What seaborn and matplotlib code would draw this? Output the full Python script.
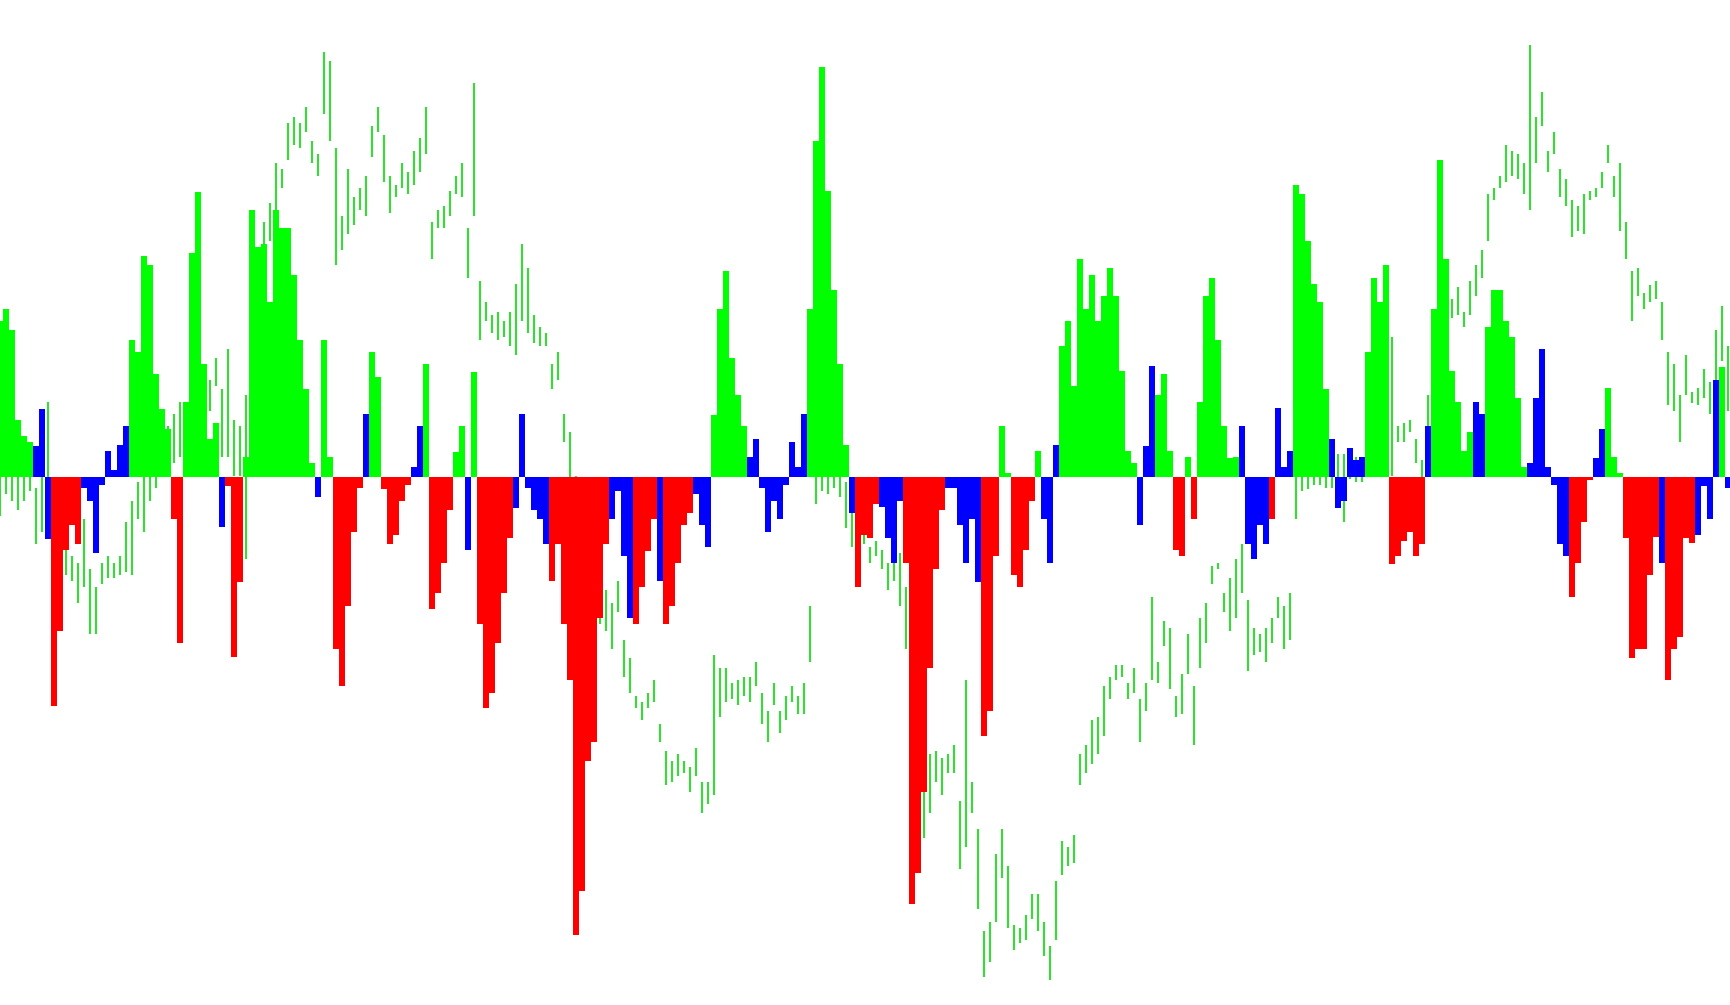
import matplotlib
matplotlib.use("Agg")
import pandas as pd
import seaborn as sns
import matplotlib.pyplot as plt

# histogram height of every bar (one bar every 6 px)
hist_values = [
    252, 272, 237, 92, 67, 57, 50, 110, -100, -370, -248, -118, -78, -108, -18, -38, -123, -13,
    42, 12, 52, 82, 222, 202, 357, 342, 167, 110, 77, -68, -268, 122, 362, 460, 182, 62,
    87, -80, -15, -290, -170, 32, 432, 372, 377, 282, 432, 402, 402, 327, 222, 142, 22, -33,
    222, 32, -278, -338, -208, -88, -18, 102, 202, 162, -20, -108, -93, -38, -13, 17, 82, 182,
    -213, -188, -138, -53, 40, 82, -118, 170, -238, -373, -348, -268, -188, -98, -50, 102, -18, -53,
    -68, -108, -168, -108, -238, -328, -740, -668, -458, -428, -228, -108, -68, -23, -128, -228, -238, -178,
    -120, -68, -168, -238, -208, -138, -78, -58, -28, -78, -113, 100, 272, 332, 192, 132, 82, 32,
    62, -18, -88, -38, -68, -13, 57, 17, 102, 272, 542, 662, 462, 302, 182, 52, -58, -178,
    -93, -98, -43, -48, -98, -138, -38, -138, -690, -640, -508, -308, -148, -53, -18, -18, -78, -138,
    -68, -170, -418, -378, -128, 82, 7, -158, -178, -118, -38, 42, -68, -138, 52, 212, 252, 147,
    352, 272, 327, 252, 292, 337, 292, 172, 42, 22, -78, 50, 180, 132, 167, 42, -118, -128,
    32, -68, 122, 292, 322, 222, 82, 30, 32, 82, -108, -133, -78, -108, -68, 112, 17, 42,
    472, 457, 382, 312, 282, 142, 62, -50, -38, 47, 27, 32, 202, 322, 282, 342, -140, -128,
    -103, -88, -128, -108, 82, 272, 512, 352, 172, 122, 42, 72, 122, 102, 242, 302, 302, 252,
    227, 127, 17, 22, 127, 207, 17, -13, -108, -128, -193, -138, -73, -5, 30, 77, 144, 32,
    7, -98, -293, -278, -278, -158, -96, -138, -328, -278, -258, -98, -106, -93, -15, -68, 157, 177, -18,
]

# g = green, r = red, b = blue
hist_colors = (
    "ggggggbbbrrrrrbbbbbbbbgggggggrrggggg"
    "gbrrrggggggggggggbggrrrrrbggrrrrrbbg"
    "rrrrggbgrrrrrrbbbbbbrrrrrrrrrrbbbbrr"
    "rrbrrrrrbbbggggggbbbbbbbbbbgggggggbr"
    "rrrbbbbrrrrrrrbbbbbbrrrggrrrrgbbbggg"
    "gggggggggg" "bbb" "ggg" "rr" "g" "r" "ggggggg" "bbbbb" "r" "bbb"
    "ggggggbbbbbbggggrrrrrrbgggggggbbgggg"
    "gggbbbbbbbrrrrbbgggrrrrrrbrrrrrbbbbgb"
)

# price bars: high and low of each bar
price_high = [
    900, 910, 900, 900, 900, 900, 860, 980, 1000, 840, 800, 770, 750, 740, 810, 730, 700, 740,
    750, 740, 750, 805, 840, 870, 900, 920, 940, 960, 960, 980, 1000, 1000, 1010, 1020, 1025, 1035,
    1070, 1020, 1085, 970, 960, 1010, 1200, 1250, 1290, 1320, 1385, 1375, 1450, 1460, 1450, 1475, 1420, 1400,
    1565, 1550, 1410, 1300, 1375, 1330, 1345, 1365, 1445, 1475, 1430, 1365, 1350, 1385, 1370, 1405, 1425, 1475,
    1290, 1310, 1315, 1340, 1365, 1385, 1280, 1515, 1195, 1160, 1140, 1145, 1130, 1145, 1190, 1255, 1215, 1140,
    1120, 1110, 1060, 1080, 980, 950, 880, 840, 800, 750, 700, 695, 675, 710, 615, 585, 525, 515,
    530, 550, 480, 435, 420, 430, 420, 410, 440, 385, 385, 590, 570, 570, 545, 550, 555, 555,
    580, 530, 500, 545, 500, 525, 540, 525, 545, 670, 910, 910, 900, 900, 900, 870, 830, 780,
    800, 765, 775, 760, 740, 750, 755, 700, 600, 500, 370, 430, 435, 425, 430, 445, 355, 550,
    385, 310, 145, 160, 270, 310, 250, 155, 150, 170, 205, 205, 160, 120, 225, 290, 280, 300,
    430, 445, 485, 490, 540, 555, 575, 575, 545, 570, 520, 545, 685, 580, 645, 635, 525, 560,
    625, 540, 650, 675, 735, 740, 690, 715, 745, 770, 680, 635, 625, 635, 650, 685, 670, 690,
    900, 905, 915, 910, 920, 905, 900, 915, 915, 900, 910, 905, 920, 930, 940, 960, 1105, 960,
    965, 970, 940, 905, 1010, 1060, 1100, 1130, 1165, 1185, 1145, 1195, 1220, 1245, 1335, 1345, 1365, 1415,
    1405, 1400, 1385, 1575, 1460, 1500, 1405, 1435, 1375, 1360, 1325, 1315, 1335, 1340, 1345, 1370, 1415, 1365,
    1385, 1290, 1210, 1215, 1175, 1188, 1195, 1160, 1080, 1060, 1010, 1075, 1015, 1022, 1052, 1032, 1115, 1155, 1090,
]
price_low = [
    815, 850, 840, 825, 840, 855, 770, 790, 790, 720, 700, 720, 710, 675, 700, 625, 625, 705,
    715, 715, 720, 725, 720, 810, 790, 840, 860, 880, 890, 900, 910, 920, 940, 950, 960, 985,
    1025, 910, 910, 880, 880, 745, 1080, 1160, 1200, 1260, 1310, 1345, 1390, 1415, 1410, 1435, 1385, 1365,
    1465, 1420, 1220, 1245, 1270, 1285, 1310, 1300, 1395, 1435, 1355, 1305, 1330, 1345, 1335, 1350, 1370, 1400,
    1230, 1280, 1280, 1300, 1335, 1330, 1200, 1300, 1100, 1130, 1110, 1100, 1105, 1090, 1075, 1130, 1110, 1095,
    1090, 1090, 1020, 1035, 935, 878, 810, 770, 730, 680, 640, 630, 600, 660, 555, 530, 505, 485,
    505, 515, 450, 380, 385, 395, 400, 370, 395, 335, 350, 365, 490, 515, 520, 510, 525, 515,
    540, 480, 450, 510, 465, 485, 515, 495, 495, 580, 835, 855, 850, 860, 845, 795, 765, 720,
    770, 740, 750, 730, 695, 710, 670, 600, 520, 420, 295, 335, 385, 365, 400, 400, 245, 280,
    335, 180, 70, 95, 160, 230, 150, 115, 125, 130, 165, 145, 105, 65, 130, 235, 250, 255,
    380, 400, 415, 430, 460, 520, 550, 555, 520, 530, 450, 500, 550, 545, 605, 535, 490, 495,
    560, 445, 570, 610, 705, 730, 660, 630, 650, 690, 565, 590, 595, 580, 610, 650, 600, 615,
    810, 855, 858, 865, 865, 860, 860, 845, 805, 875, 870, 870, 880, 885, 890, 900, 880, 935,
    935, 950, 900, 878, 900, 1000, 1040, 1080, 1135, 1140, 1120, 1140, 1170, 1200, 1260, 1325, 1345, 1355,
    1365, 1360, 1335, 1310, 1385, 1445, 1370, 1400, 1330, 1315, 1265, 1275, 1270, 1325, 1330, 1345, 1385, 1330,
    1275, 1230, 1130, 1170, 1150, 1160, 1165, 1100, 995, 985, 935, 1010, 998, 995, 1005, 980, 1020, 1065, 985,
]

palette = {"g": "#00ff00", "r": "#ff0000", "b": "#0000ff"}

n = len(hist_values)
assert len(hist_colors) == n and len(price_high) == n and len(price_low) == n

sns.set_theme(style="white")
fig = plt.figure(figsize=(17.3, 10.05), dpi=100)
ax = fig.add_axes([0, 0, 1, 1])

# price bars go underneath
ax.vlines(range(n), price_low, price_high, color="#33dd33", lw=1.5)
ax.set_ylim(25.4, 1648.45)

ax2 = ax.twinx()
df = pd.DataFrame({"bar": range(n), "value": hist_values, "kind": list(hist_colors)})
sns.barplot(data=df, x="bar", y="value", hue="kind", palette=palette, dodge=False,
            width=1.0, saturation=1, linewidth=0, legend=False, ax=ax2)
ax2.set_ylim(-852.6, 770.45)

for a in (ax, ax2):
    a.set_xlim(0, 1730 / 6)
    a.axis("off")

fig.savefig("out.png", dpi=100)
